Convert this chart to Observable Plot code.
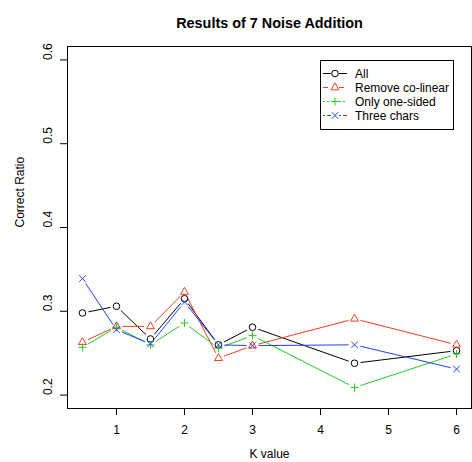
<!DOCTYPE html>
<html>
<head>
<meta charset="utf-8">
<script src="https://cdn.jsdelivr.net/npm/d3@7"></script>
<script src="https://cdn.jsdelivr.net/npm/@observablehq/plot@0.6"></script>
<style>
  html, body { margin: 0; padding: 0; background: #fff; }
  #wrap { position: relative; width: 472px; height: 462px; font-family: "Liberation Sans", Arial, sans-serif; }
  #legend { position: absolute; left: 320px; top: 60px; }
</style>
</head>
<body>
<div id="wrap"></div>
<script>
const title = "Results of 7 Noise Addition";
const xLabel = "K value";
const yLabel = "Correct Ratio";
const kValues = [0.5, 1, 1.5, 2, 2.5, 3, 4.5, 6];
const xTicks = [1, 2, 3, 4, 5, 6];
const yTicks = [0.2, 0.3, 0.4, 0.5, 0.6];

const seriesNames = ["All", "Remove co-linear", "Only one-sided", "Three chars"];
const allValues       = [0.298, 0.306, 0.267, 0.315, 0.260, 0.281, 0.238, 0.253];
const colinearValues  = [0.263, 0.282, 0.282, 0.323, 0.244, 0.259, 0.291, 0.260];
const oneSidedValues  = [0.257, 0.281, 0.260, 0.286, 0.256, 0.271, 0.209, 0.249];
const threeCharValues = [0.339, 0.278, 0.261, 0.311, 0.260, 0.259, 0.260, 0.231];

const colors = ["#000000", "#f43c1f", "#22cc22", "#1f3fff"];
const symbols = ["circle", "triangle", "plus", "times"];
const symbolR = [3.3, 2.95, 2.7, 3.1];
const legendDash = [null, "5,3", "2,2", "2,2,5,2"];
const allSeries = [allValues, colinearValues, oneSidedValues, threeCharValues];

const font = '"Liberation Sans", Arial, sans-serif';

function segs(vals) {
  const out = [];
  for (let i = 0; i < kValues.length - 1; i++) {
    out.push({x1: kValues[i], y1: vals[i], x2: kValues[i + 1], y2: vals[i + 1]});
  }
  return out;
}

const marks = [];
allSeries.forEach((vals, s) => {
  marks.push(Plot.arrow(segs(vals), {
    x1: "x1", y1: "y1", x2: "x2", y2: "y2",
    stroke: colors[s], strokeWidth: 1, headLength: 0, inset: 6.5
  }));
});
allSeries.forEach((vals, s) => {
  const pts = kValues.map((k, i) => ({k, v: vals[i]}));
  marks.push(Plot.dot(pts, {
    x: "k", y: "v", symbol: () => symbols[s], r: symbolR[s],
    stroke: colors[s], fill: "none", strokeWidth: 1
  }));
});

const chart = Plot.plot({
  width: 472,
  height: 462,
  marginLeft: 67,
  marginRight: 1,
  marginTop: 46,
  marginBottom: 54,
  style: {fontFamily: font, fontSize: "12px", background: "#fff", color: "#000"},
  x: {domain: [0.28, 6.22]},
  y: {domain: [0.184, 0.616]},
  symbol: {type: "identity"},
  marks: [
    Plot.frame({stroke: "#000"}),
    Plot.axisX({ticks: xTicks, tickSize: 7, tickPadding: 10, tickFormat: d => String(d), label: null, fontSize: 12, fill: "#000", stroke: "#000"}),
    Plot.axisY({ticks: yTicks, tickSize: 7, tickFormat: () => "", label: null, stroke: "#000"}),
    Plot.text(yTicks, {y: d => d, text: d => String(d), frameAnchor: "left", dx: -19, rotate: -90, fontSize: 12, fill: "#000"}),
    Plot.text([yLabel], {frameAnchor: "left", dx: -47, rotate: -90, fontSize: 12, fill: "#000"}),
    Plot.text([xLabel], {frameAnchor: "bottom", dy: 49, fontSize: 12, fill: "#000"}),
    Plot.text([title], {frameAnchor: "top", dy: -29, fontSize: 14.4, fontWeight: "bold", fill: "#000"}),
    ...marks
  ]
});
document.getElementById("wrap").appendChild(chart);

// Legend overlay
const lw = 133, lh = 69;
const lg = d3.select("#wrap").append("svg")
  .attr("id", "legend").attr("width", lw + 1).attr("height", lh + 1);
lg.append("rect").attr("x", 0.5).attr("y", 0.5).attr("width", lw).attr("height", lh)
  .attr("fill", "#fff").attr("stroke", "#000");
const rowY = [13.5, 27.5, 41.5, 55.5];
seriesNames.forEach((name, s) => {
  const g = lg.append("g").attr("transform", `translate(0,${rowY[s]})`);
  g.append("line").attr("x1", 3).attr("x2", 11).attr("y1", 0).attr("y2", 0)
    .attr("stroke", colors[s]).attr("stroke-dasharray", legendDash[s]);
  g.append("line").attr("x1", 19).attr("x2", 27).attr("y1", 0).attr("y2", 0)
    .attr("stroke", colors[s]).attr("stroke-dasharray", legendDash[s]);
  const symType = {circle: d3.symbolCircle, triangle: d3.symbolTriangle, plus: d3.symbolPlus, times: d3.symbolTimes}[symbols[s]];
  g.append("path").attr("transform", "translate(15,0)")
    .attr("d", d3.symbol(symType, Math.PI * symbolR[s] * symbolR[s])())
    .attr("fill", "none").attr("stroke", colors[s]);
  g.append("text").attr("x", 35).attr("y", 0).attr("dy", "0.35em")
    .attr("font-family", font).attr("font-size", 12).attr("fill", "#000").text(name);
});
</script>
</body>
</html>
